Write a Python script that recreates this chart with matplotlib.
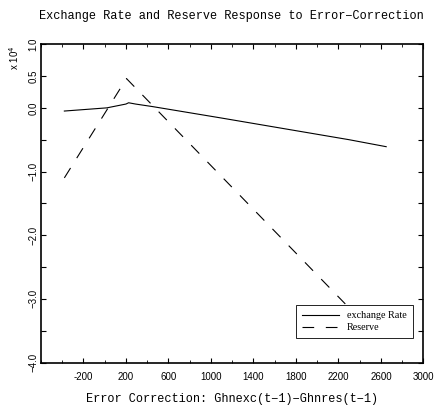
import matplotlib
matplotlib.use("Agg")
import matplotlib.pyplot as plt
from matplotlib.ticker import MultipleLocator, FixedLocator

# values in units of 10^4
exc_x = [-380, 20, 200, 225, 290, 450, 1100, 1700, 2300, 2650]
exc_y = [-0.05, 0.0, 0.06, 0.08, 0.06, 0.02, -0.16, -0.33, -0.50, -0.61]
res_x = [-380, 205, 2265]
res_y = [-1.10, 0.46, -3.08]

ytick_vals = [1.0, 0.5, 0.0, -0.5, -1.0, -1.5, -2.0, -2.5, -3.0, -3.5, -4.0]
ytick_lbls = ["1.0", "0.5", "0.0", "", "-1.0", "", "-2.0", "", "-3.0", "", "-4.0"]
xtick_vals = [-200, 200, 600, 1000, 1400, 1800, 2200, 2600, 3000]

MONO = "Liberation Mono"
SERIF = "Liberation Serif"
SANS = "Liberation Sans"

fig = plt.figure(figsize=(4.37, 4.15), dpi=100)
ax = fig.add_axes([0.0938, 0.1265, 0.875, 0.767])

ax.plot(exc_x, exc_y, color="black", lw=0.8, label="exchange Rate")
ax.plot(res_x, res_y, color="black", lw=0.8, dashes=(10.5, 10.5), label="Reserve")

ax.set_xlim(-600, 3000)
ax.set_ylim(-4.0, 1.0)

ax.xaxis.set_major_locator(FixedLocator(xtick_vals))
ax.xaxis.set_minor_locator(MultipleLocator(200))
ax.set_xticklabels([str(v) for v in xtick_vals], fontsize=7, family=SANS)
ax.set_yticks(ytick_vals)
ax.set_yticklabels([l.replace("-", "\u2212") for l in ytick_lbls],
                   fontsize=7, family=SANS, rotation=90, va="center")

ax.tick_params(which="both", direction="in", top=True, right=True)
ax.tick_params(which="major", length=3.5, width=0.8)
ax.tick_params(which="minor", length=2, width=0.6)
ax.tick_params(axis="y", pad=2)
ax.tick_params(axis="x", pad=7)
for s in ax.spines.values():
    s.set_linewidth(1.2)

fig.text(0.032, 0.862, r"x 10$^4$", rotation=90, fontsize=7, family=SANS,
         ha="center", va="center")

fig.text(0.53, 0.962, "Exchange Rate and Reserve Response to Error\u2212Correction",
         ha="center", va="center", fontsize=8.6, family=MONO)
ax.set_xlabel("Error Correction: Ghnexc(t\u22121)\u2212Ghnres(t\u22121)",
              fontsize=8.6, family=MONO, labelpad=8)

leg = ax.legend(loc="lower right", bbox_to_anchor=(0.985, 0.06),
                prop={"family": SERIF, "size": 7.3}, fancybox=False,
                edgecolor="black", framealpha=1, handlelength=3.6,
                borderpad=0.6, labelspacing=0.3)
leg.get_frame().set_linewidth(0.6)

fig.savefig("out.png", dpi=100, facecolor="white")
